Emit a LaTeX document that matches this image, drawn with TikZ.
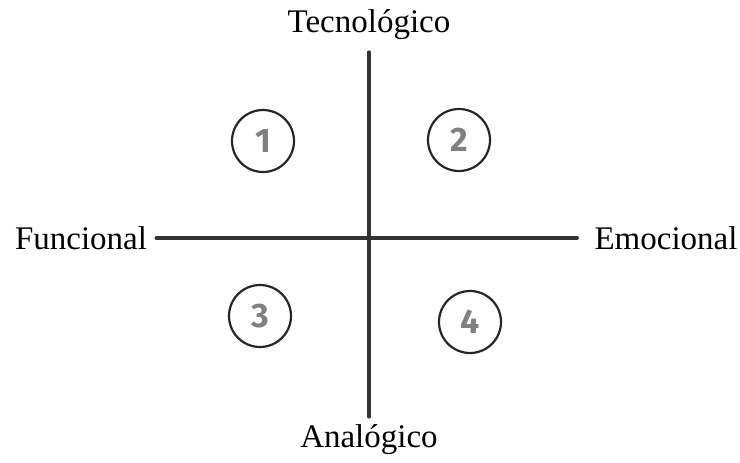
\documentclass[tikz,border=0pt]{standalone}
\usepackage{fontspec}
\setmainfont{Liberation Serif}
\setsansfont{Fira Sans}
\usepackage{tikz}
\usetikzlibrary{positioning,calc}

\begin{document}
\begin{tikzpicture}[x=1pt,y=-1pt,
    axislabel/.style={font=\fontsize{33}{38}\selectfont,inner sep=0pt},
    axisline/.style={line width=3.6pt,draw=black!80,line cap=round},
    quadrant/.style={circle,draw=black!85,line width=2.2pt,minimum size=62pt,inner sep=0pt,
      font=\sffamily\bfseries\fontsize{34}{34}\selectfont,text=black!50}]
  \useasboundingbox (0,0) rectangle (740,463);
  % axis labels
  \node[axislabel] (tec) at (369,25) {Tecnológico};
  \node[axislabel] (ana) at (369,440) {Analógico};
  \node[axislabel] (fun) at (81,238) {Funcional};
  \node[axislabel] (emo) at (666,238) {Emocional};
  % axes
  \draw[axisline] ($(tec.south)+(0,12)$) coordinate (top) -- ($(ana.north)+(0,-8)$) coordinate (bottom);
  \draw[axisline,line width=3.2pt] ($(fun.east)+(9,0)$) coordinate (left) -- ($(emo.west)+(-17,0)$) coordinate (right);
  % quadrants
  \node[quadrant] (q1) at (263,141) {1};
  \node[quadrant] (q2) at (459,140) {2};
  \node[quadrant] (q3) at (260,316) {3};
  \node[quadrant] (q4) at (470,322) {4};
\end{tikzpicture}
\end{document}
